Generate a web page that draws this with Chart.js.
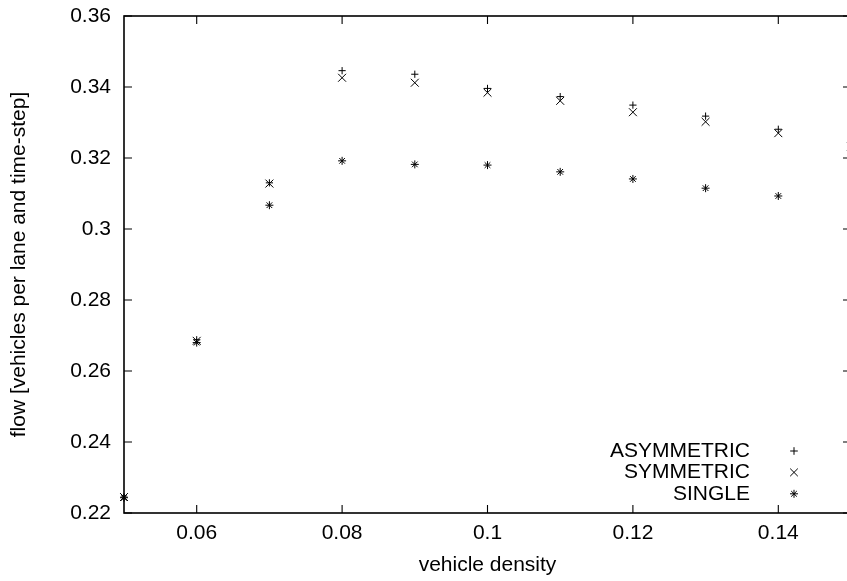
<!DOCTYPE html>
<html>
<head>
<meta charset="utf-8">
<title>Flow vs vehicle density</title>
<script src="https://cdn.jsdelivr.net/npm/chart.js@4.4.1/dist/chart.umd.min.js"></script>
<style>
    html, body { margin: 0; padding: 0; overflow: hidden; background: #fff; }
    #chart-container { position: relative; width: 860px; height: 581px; }
</style>
</head>
<body>
<div id="chart-container"><canvas id="flowChart"></canvas></div>
<script>
// Data
const density = [0.05, 0.06, 0.07, 0.08, 0.09, 0.10, 0.11, 0.12, 0.13, 0.14, 0.15];
const asymmetric = [0.2245, 0.2688, 0.3130, 0.3446, 0.3436, 0.3396, 0.3373, 0.3349, 0.3318, 0.3281, 0.3248];
const symmetric = [0.2245, 0.2685, 0.3128, 0.3426, 0.3412, 0.3384, 0.3361, 0.3329, 0.3302, 0.3270, 0.3232];
const single = [0.2243, 0.2680, 0.3067, 0.3192, 0.3182, 0.3180, 0.3161, 0.3141, 0.3115, 0.3093, 0.3065];

const seriesNames = ['ASYMMETRIC', 'SYMMETRIC', 'SINGLE'];
const xTicks = [0.06, 0.08, 0.10, 0.12, 0.14];
const yTicks = [0.22, 0.24, 0.26, 0.28, 0.30, 0.32, 0.34, 0.36];

(function() {
    const FONT = { family: '"Liberation Sans", Arial, Helvetica, sans-serif', size: 21 };

    // Pair up x and y values for a scatter dataset
    function toPoints(values) {
        return density.map((d, i) => ({ x: d, y: values[i] }));
    }

    function fmt(v) {
        return String(parseFloat(v.toFixed(3)));
    }

    // gnuplot-like frame, mirrored inward ticks and key
    const gnuplotFrame = {
        id: 'gnuplotFrame',
        afterDatasetsDraw(chart) {
            const { ctx, chartArea: a, scales } = chart;
            const x = scales.x, y = scales.y;
            const tick = 8;

            ctx.save();
            ctx.strokeStyle = '#000';
            ctx.lineWidth = 1.6;
            ctx.strokeRect(a.left, a.top, a.right - a.left, a.bottom - a.top);

            ctx.lineWidth = 1.1;
            ctx.beginPath();
            x.ticks.forEach(t => {
                const px = x.getPixelForValue(t.value);
                ctx.moveTo(px, a.bottom); ctx.lineTo(px, a.bottom - tick);
                ctx.moveTo(px, a.top); ctx.lineTo(px, a.top + tick);
            });
            y.ticks.forEach(t => {
                const py = y.getPixelForValue(t.value);
                ctx.moveTo(a.left, py); ctx.lineTo(a.left + tick, py);
                ctx.moveTo(a.right, py); ctx.lineTo(a.right - tick, py);
            });
            ctx.stroke();

            // Key in the lower right corner, text right-aligned before the symbol
            ctx.font = FONT.size + 'px ' + FONT.family;
            ctx.fillStyle = '#000';
            ctx.textAlign = 'right';
            ctx.textBaseline = 'middle';
            const textRight = a.right - 101;
            const symX = a.right - 57;
            const firstRow = a.bottom - 62;
            chart.data.datasets.forEach((ds, i) => {
                const rowY = firstRow + i * 21.4;
                ctx.fillText(ds.label, textRight, rowY);
                ctx.lineWidth = 1;
                Chart.helpers.drawPoint(ctx, {
                    pointStyle: ds.pointStyle,
                    radius: ds.legendRadius,
                    rotation: 0,
                    borderWidth: 1
                }, symX, rowY);
            });
            ctx.restore();
        }
    };

    const canvas = document.getElementById('flowChart');
    const ctx = canvas.getContext('2d');

    Chart.defaults.color = '#000';
    Chart.defaults.font.family = FONT.family;
    Chart.defaults.font.size = FONT.size;

    const base = {
        backgroundColor: '#000',
        borderColor: '#000',
        borderWidth: 1,
        showLine: false,
        clip: false
    };

    new Chart(ctx, {
        type: 'scatter',
        data: {
            datasets: [
                Object.assign({}, base, { label: seriesNames[0], data: toPoints(asymmetric), pointStyle: 'cross', pointRadius: 3.6, legendRadius: 3.8 }),
                Object.assign({}, base, { label: seriesNames[1], data: toPoints(symmetric), pointStyle: 'crossRot', pointRadius: 5.6, legendRadius: 5.4 }),
                Object.assign({}, base, { label: seriesNames[2], data: toPoints(single), pointStyle: 'star', pointRadius: 4, legendRadius: 4 })
            ]
        },
        options: {
            responsive: true,
            maintainAspectRatio: false,
            animation: false,
            layout: { padding: { top: 16, right: 9, bottom: 0, left: 0 } },
            plugins: {
                legend: { display: false },
                tooltip: { enabled: false }
            },
            scales: {
                x: {
                    type: 'linear',
                    min: 0.05,
                    max: 0.15,
                    grid: { display: false, drawTicks: false },
                    border: { display: false },
                    afterBuildTicks: scale => { scale.ticks = xTicks.map(v => ({ value: v })); },
                    afterFit: scale => { scale.height = 68; scale.paddingLeft = 0; scale.paddingRight = 0; },
                    ticks: { padding: 8, maxRotation: 0, callback: v => fmt(v) },
                    title: { display: true, text: 'vehicle density', padding: { top: 0, bottom: 3 } }
                },
                y: {
                    type: 'linear',
                    min: 0.22,
                    max: 0.36,
                    grid: { display: false, drawTicks: false },
                    border: { display: false },
                    afterBuildTicks: scale => { scale.ticks = yTicks.map(v => ({ value: v })); },
                    afterFit: scale => { scale.width = 124; scale.paddingTop = 0; scale.paddingBottom = 0; },
                    ticks: { padding: 13, callback: v => fmt(v) },
                    title: { display: true, text: 'flow [vehicles per lane and time-step]', padding: { top: 7, bottom: 0 } }
                }
            }
        },
        plugins: [gnuplotFrame]
    });
})();
</script>
</body>
</html>
